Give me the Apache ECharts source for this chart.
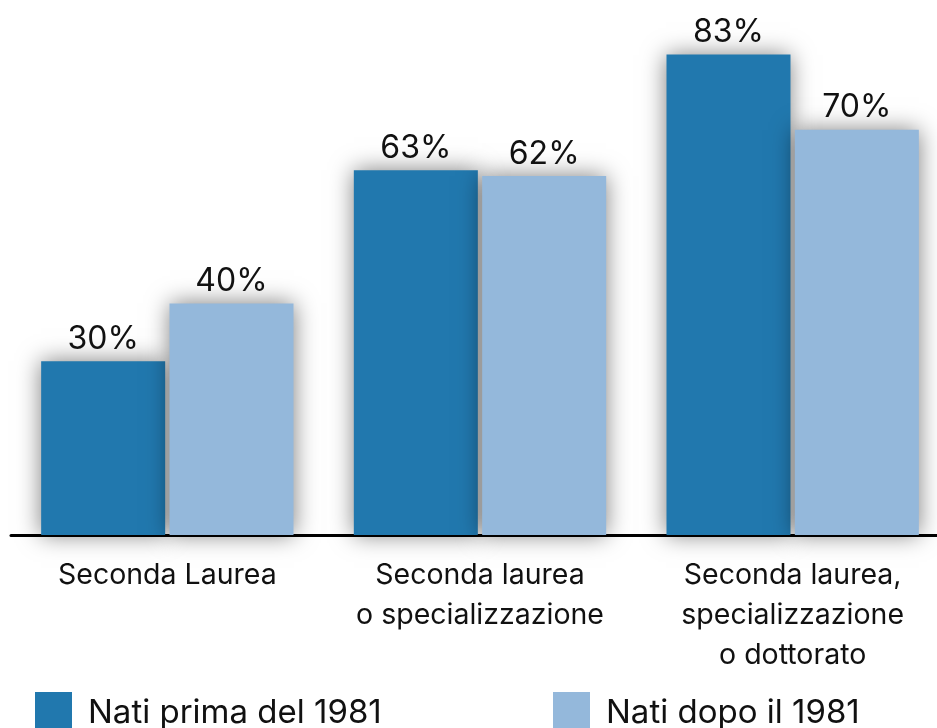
<!DOCTYPE html>
<html>
<head>
<meta charset="utf-8">
<script src="https://cdn.jsdelivr.net/npm/echarts@6/dist/echarts.min.js"></script>
<style>
  html, body { margin: 0; padding: 0; background: #fff; }
  #chart { width: 937px; height: 728px; }
</style>
</head>
<body>
<div id="chart"></div>
<script>
  var categories = ['Seconda Laurea', 'Seconda laurea\no specializzazione', 'Seconda laurea,\nspecializzazione\no dottorato'];
  var seriesNames = ['Nati prima del 1981', 'Nati dopo il 1981'];
  var primaValues = [30, 63, 83];
  var dopoValues = [40, 62, 70];

  var dom = echarts.init(document.getElementById('chart'));
  var shadow = {
    shadowBlur: 22,
    shadowColor: 'rgba(0, 0, 0, 0.5)',
    shadowOffsetX: 0,
    shadowOffsetY: 0
  };
  var label = {
    show: true,
    position: 'top',
    distance: 6,
    formatter: '{c}%',
    fontFamily: 'Inter',
    fontSize: 32,
    color: '#111'
  };
  var legendText = { fontSize: 33, color: '#111', fontFamily: 'Inter', padding: [0, 0, 0, 11] };
  var option = {
    backgroundColor: '#fff',
    animation: false,
    textStyle: { fontFamily: 'Inter' },
    grid: { left: 11, width: 938, top: 14, bottom: 193, containLabel: false, outerBoundsMode: 'none' },
    legend: [
      {
        data: [seriesNames[0]],
        left: 35, top: 692, padding: 0,
        itemWidth: 37, itemHeight: 42,
        icon: 'rect',
        textStyle: legendText
      },
      {
        data: [seriesNames[1]],
        left: 553, top: 692, padding: 0,
        itemWidth: 37, itemHeight: 42,
        icon: 'rect',
        textStyle: legendText
      }
    ],
    xAxis: {
      type: 'category',
      data: categories,
      axisLine: { lineStyle: { color: '#000', width: 3 } },
      axisTick: { show: false },
      axisLabel: {
        interval: 0,
        hideOverlap: false,
        margin: 20,
        fontSize: 28.5,
        lineHeight: 40,
        color: '#111',
        fontFamily: 'Inter',
        align: 'center'
      }
    },
    yAxis: {
      type: 'value',
      min: 0,
      max: 90,
      show: false,
      splitLine: { show: false }
    },
    series: [
      {
        name: seriesNames[0],
        type: 'bar',
        data: primaValues,
        barWidth: 124,
        barGap: '3.5%',
        itemStyle: Object.assign({ color: '#2178ae' }, shadow),
        label: label
      },
      {
        name: seriesNames[1],
        type: 'bar',
        data: dopoValues,
        barWidth: 124,
        itemStyle: Object.assign({ color: '#94b8db' }, shadow),
        label: label
      }
    ]
  };
  dom.setOption(option);
</script>
</body>
</html>
